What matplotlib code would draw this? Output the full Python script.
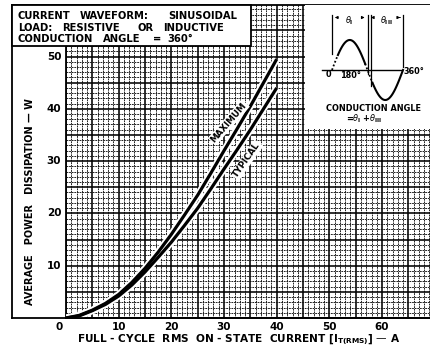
import numpy as np
import matplotlib
matplotlib.use("Agg")
import matplotlib.pyplot as plt
from matplotlib.patches import Rectangle
from matplotlib.lines import Line2D
from matplotlib.ticker import MultipleLocator

# RMS on-state current (A) and average power dissipation (W)
current = [0, 2.5, 5, 7.5, 10, 12.5, 15, 17.5, 20, 22.5, 25, 27.5, 30, 32.5, 35, 37.5, 40]
power_max = [0, 0.5, 1.5, 2.8, 4.5, 6.8, 9.5, 12.6, 16, 19.7, 23.5, 27.7, 32, 36.2, 40.5, 45, 49.5]
power_typ = [0, 0.4, 1.4, 2.6, 4.2, 6.3, 8.8, 11.6, 14.5, 17.7, 21, 24.7, 28.5, 32.2, 36, 40, 44]

x_ticks = [0, 10, 20, 30, 40, 50, 60]
y_ticks = [10, 20, 30, 40, 50]

W, H = 430, 358
FONT = "DejaVu Sans"


def fx(x):
    return x / W


def fy(y):
    return 1 - y / H


fig = plt.figure(figsize=(W / 100, H / 100), dpi=100)
fig.patch.set_facecolor("white")

# main graph-paper axes
ax = fig.add_axes([fx(66), fy(318), (430 - 66) / W, (318 - 5) / H])
ax.set_xlim(0, 69.1)
ax.set_ylim(0, 59.85)
ax.xaxis.set_major_locator(MultipleLocator(5))
ax.xaxis.set_minor_locator(MultipleLocator(1))
ax.yaxis.set_major_locator(MultipleLocator(5))
ax.yaxis.set_minor_locator(MultipleLocator(1))
ax.grid(which="minor", color="#111111", lw=0.65, ls=(0, (2.0, 0.9)))
ax.grid(which="major", color="black", lw=1.15)
ax.tick_params(which="both", length=0, labelbottom=False, labelleft=False)
for s in ["top", "right"]:
    ax.spines[s].set_visible(False)
ax.spines["left"].set_linewidth(1.3)
ax.spines["bottom"].set_linewidth(1.3)
ax.set_axisbelow(True)

# white borders under both curves first, then the curves themselves
for p in (power_max, power_typ):
    ax.plot(current, p, color="white", lw=5.0, solid_capstyle="butt", zorder=3)
for p in (power_max, power_typ):
    ax.plot(current, p, color="black", lw=2.3, solid_capstyle="butt", zorder=4)

lab_kw = dict(fontsize=6.3, fontweight="bold", family=FONT, ha="center", va="center",
              zorder=5, bbox=dict(boxstyle="square,pad=0.12", fc="white", ec="none"))
ax.text(30.9, 37.4, "MAXIMUM", rotation=49, **lab_kw)
ax.text(34.3, 30.2, "TYPICAL", rotation=55, **lab_kw)

# tick labels
for v in x_ticks:
    off = -1.3 if v == 0 else 0
    ax.text(v + off, -0.8, str(v), ha="center", va="top", fontsize=7.5,
            fontweight="bold", family=FONT, clip_on=False)
for v in y_ticks:
    ax.text(-0.9, v, str(v), ha="right", va="center", fontsize=7.5,
            fontweight="bold", family=FONT, clip_on=False)

# outer frame lines
fig.add_artist(Line2D([fx(12), fx(12)], [fy(5), fy(318)], color="black", lw=1.3))
fig.add_artist(Line2D([fx(12), fx(430)], [fy(318), fy(318)], color="black", lw=1.3))
fig.add_artist(Line2D([fx(12), fx(430)], [fy(5), fy(5)], color="black", lw=1.3))

# axis titles
fig.text(fx(30), fy(202), "AVERAGE   POWER   DISSIPATION — W", rotation=90,
         ha="center", va="center", fontsize=7.0, fontweight="bold", family=FONT)
fig.text(fx(239), fy(340),
         r"FULL - CYCLE  RMS  ON - STATE  CURRENT $\mathregular{[I_{T(RMS)}]}$ — A",
         ha="center", va="center", fontsize=7.6, fontweight="bold", family=FONT)

# conditions box
fig.add_artist(Rectangle((fx(12), fy(46)), (251 - 12) / W, (46 - 5) / H,
                         transform=fig.transFigure, fc="white", ec="black", lw=1.3, zorder=5))
box_words = [
    (16, [(18, "CURRENT"), (80, "WAVEFORM:"), (168, "SINUSOIDAL")]),
    (28, [(18, "LOAD:"), (62, "RESISTIVE"), (138, "OR"), (163, "INDUCTIVE")]),
    (39, [(18, "CONDUCTION"), (103, "ANGLE"), (153, "="), (167, "360°")]),
]
for yy, words in box_words:
    for xx, w in words:
        fig.text(fx(xx), fy(yy), w, ha="left", va="center", fontsize=7.2,
                 fontweight="bold", family=FONT, zorder=6)

# waveform sketch
ax2 = fig.add_axes([fx(305), fy(129), (430 - 305) / W, (129 - 5) / H], zorder=6)
ax2.set_xlim(-136.9, 496.9)
ax2.set_ylim(-1.967, 2.167)
ax2.set_xticks([])
ax2.set_yticks([])
for s in ax2.spines.values():
    s.set_visible(False)
ax2.set_facecolor("white")

ax2.plot([-52, 355], [0, 0], color="black", lw=1.0)


def seg(a, b, **kw):
    t = np.linspace(a, b, 60)
    ax2.plot(t, np.sin(np.radians(t)), color="black", **kw)


seg(0, 30, lw=1.3, ls=(0, (1, 1.2)))
seg(30, 168, lw=1.5)
seg(168, 205, lw=1.3, ls=(0, (1, 1.2)))
seg(205, 360, lw=1.5)

top = 1.75
for xv, yb in [(0, 0.55), (180, -0.15), (197, -0.55), (360, 0.1)]:
    ax2.plot([xv, xv], [yb, top + 0.1], color="black", lw=0.9)
arr = dict(arrowstyle="-|>", color="black", lw=0.7, mutation_scale=4)
ax2.annotate("", xy=(0, top), xytext=(45, top), arrowprops=arr)
ax2.annotate("", xy=(180, top), xytext=(135, top), arrowprops=arr)
ax2.annotate("", xy=(197, top), xytext=(225, top), arrowprops=arr)
ax2.annotate("", xy=(360, top), xytext=(330, top), arrowprops=arr)
small = dict(fontsize=5.9, fontweight="bold", family=FONT)
ax2.text(88, top - 0.1, r"$\theta_{\mathregular{I}}$", ha="center", va="center", **small)
ax2.text(277, top - 0.1, r"$\theta_{\mathregular{III}}$", ha="center", va="center", **small)
ax2.text(-20, -0.15, "0", ha="center", va="center", **small)
ax2.text(95, -0.18, "180°", ha="center", va="center", **small)
ax2.text(365, -0.05, "360°", ha="left", va="center", **small)
ax2.text(211, -1.27, "CONDUCTION ANGLE", ha="center", va="center", **small)
ax2.text(165, -1.62, r"=$\theta_{\mathregular{I}}$ +$\theta_{\mathregular{III}}$",
         ha="center", va="center", **small)

fig.savefig("out.png", dpi=100, facecolor="white")
